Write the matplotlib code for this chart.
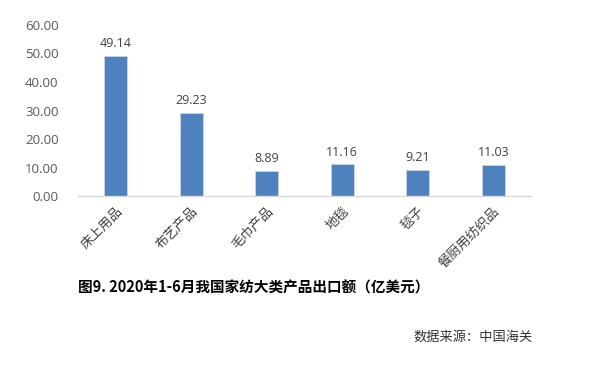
import matplotlib
matplotlib.use('Agg')
import matplotlib.pyplot as plt

plt.rcParams['font.family'] = ['Noto Sans CJK SC', 'DejaVu Sans']

categories = ['床上用品', '布艺产品', '毛巾产品', '地毯', '毯子', '餐厨用纺织品']
values = [49.14, 29.23, 8.89, 11.16, 9.21, 11.03]
yticks = [0, 10, 20, 30, 40, 50, 60]

fig = plt.figure(figsize=(6, 3.73), dpi=100)
ax = fig.add_axes([0.13, 0.4745, 0.755, 0.4585])

x = range(len(categories))
ax.bar(x, values, width=0.31, color='#4f81bd', edgecolor='#c6d4ea', linewidth=0.6)
for i, v in zip(x, values):
    ax.text(i, v + 2.0, f'{v:.2f}', ha='center', va='bottom', fontsize=9,
            color='#404040', family='Open Sans')

ax.set_xlim(-0.5, len(categories) - 0.5)
ax.set_ylim(0, 60)
ax.set_yticks(yticks)
ax.set_yticklabels([f'{t:.2f}' for t in yticks], family='Open Sans', fontsize=9.5, color='#595959')
ax.set_xticks(list(x))
ax.set_xticklabels(categories, rotation=45, ha='right', rotation_mode='anchor',
                   fontsize=9.5, color='#404040')
ax.tick_params(axis='both', length=0, pad=6)
ax.tick_params(axis='y', pad=14)
for s in ['top', 'right', 'left']:
    ax.spines[s].set_visible(False)
ax.spines['bottom'].set_color('#d9d9d9')
ax.spines['bottom'].set_linewidth(1)

fig.text(0.13, 0.228, '图9. 2020年1-6月我国家纺大类产品出口额（亿美元）', fontsize=10.5,
         fontweight='bold', color='black', va='center')
fig.text(0.888, 0.097, '数据来源：中国海关', fontsize=9.5, color='#333333', ha='right', va='center')

fig.savefig('out.png', dpi=100)
